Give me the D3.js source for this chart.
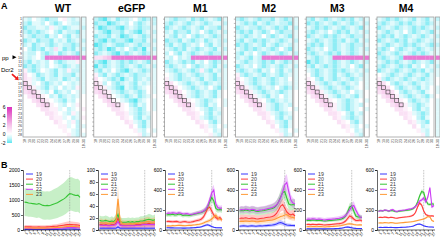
<!DOCTYPE html>
<html>
<head>
<meta charset="utf-8">
<script src="https://cdn.jsdelivr.net/npm/d3@7"></script>
<style>
body { margin: 0; background: #fff; }
svg { display: block; font-family: "Liberation Sans", Arial, sans-serif; }
</style>
</head>
<body>
<script>
// ---- data ----
const panels = ["WT", "eGFP", "M1", "M2", "M3", "M4"];
const lengths = [18, 19, 20, 21, 22, 23, 24, 25, 26, 27, 28, 29, 30];
const positions = d3.range(1, 29);
const seriesNames = ["19", "20", "21", "22", "23"];
const seriesColors = ["#3636ff", "#ff3b3b", "#35c435", "#cc3cf5", "#ff9a36"];
const boxedCells = [[16, 18], [17, 19], [18, 20], [19, 21], [20, 22], [21, 23]];
const barTicks = [6, 4, 2, 0, -2];
const markPosition = 23;

// cell codes, one char per cell (cols 18..30, then the 18-30 column)
const LEVEL = {C: -2, c: -1.5, b: -1, a: -0.5, "0": 0, "1": 0.5, "2": 1, "3": 1.5, "4": 2, "5": 3, "6": 4};

const wtCells = [
  "ab0abcbb01abaa", "bcaab0bcb0abba", "cbbaab1abcbaab", "bcbcba0bcabbca", "abcbbcab0bcaba",
  "cbacbbcabacbab", "bacbabcbabbcba", "0bcbcab2acbcab", "abb0bcbacbabca", "aba0b666666666",
  "bcabab0bcbaa1a", "cbcbab0abcbaba", "1bcb0abcab1bba", "20acbabcabbcaa", "21abcabbacbaba",
  "31a0bcbab0abaa", "331abcab0bab1a", "2331ab0cbab0aa", ".23310bacbaba0", "..23310abcab00",
  "...23310ab0a10", "....2211a0ba01", ".....2210ab1a0", "......211a0ba1", ".......210a1b0",
  "........11a0ba", ".........10ab0", "..........1aba"
];
const egfpCells = [
  "bcCbacbba0bcbb", "cbbCcbab0bcbab", "bCcbbcCbabcbba", "abcCbbcabcCbab", "cbbcabCcbabcba",
  "bcCbcbbcCbbcab", "Ccbabccbabcbba", "bcbCcab0bcbCab", "cbabcCbcbabcba", "22346666666666",
  "bcCbabcbcbabca", "Cbcbabcbabcbab", "bcab0bcCbabcba", "1bcabcbabcbbaa", "20abcbCbacbaba",
  "21b0bcbabcabaa", "321abcCabcba0a", "2321abcbabcb0a", ".2320abcbacba0", "..2310abcCba0a",
  "...23210bcab0a", "....2210abcb0a", ".....221abcba0", "......210bcab0", ".......21abca0",
  "........20bca0", ".........1ab0a", "..........1ba0"
];
const m1Cells = [
  "abcbbacbcbabca", "bcbabcbabcbaab", "cbabcbabcabbca", "bacbbcab0bcbab", "abcab0bcbabcba",
  "cbbcabcbacbabb", "bcabcbab0bcaba", "abcbcabcbabcab", "b0bcabcbabcbba", "ab0bab66666666",
  "cbabcbcab0bcba", "bcbab0bcbabcab", "abcbabcb1bcaba", "0abcbabcbabcaa", "1abcbbabcabcba",
  "320abcbabcbaba", "3320abcbab0bca", "23320abcbabca0", ".2331abcbabca0", "..23310abcba0a",
  "...2331abcab0a", "....2210abcba0", ".....2210bcab0", "......21abcba0", ".......210bca0",
  "........21ab0a", ".........10ba0", "..........1ab0"
];
const m2Cells = [
  "bcbabcbbcabcba", "abcbcabcbabbca", "cbabbcbabcbcab", "bcbcabcb0bcbba", "abcbab0bcbabca",
  "bcabcbcbabcbab", "cbcbabcabcbaba", "abcbcbabcb0bca", "bcab0bcbabcbab", "babcab66666666",
  "abcbabcbcabcba", "cbab0bcbabcbab", "bcbabcab0bcaba", "1bcbabcbabcbaa", "20abcbabcbab0a",
  "31abcbabcbabaa", "331abcbab0bcba", "2331abcbabcba0", ".2331abcab0ba0", "..23310bcbaba0",
  "...2331abcbab0", "....221abcba0a", ".....221abcba0", "......210bcab0", ".......21abca0",
  "........20bca0", ".........1ab0a", "..........1ba0"
];
const m3Cells = [
  "bcabcbabcbcaba", "cbcbabcbabcbab", "abcbcbabcbabca", "bcbab0bcbcabab", "cbabcbcbabcbba",
  "abcbabcbcabcab", "bcbcabcbabcbba", "cbab0bcbabcbab", "bcbabcbcabcbaa", "abcbab66666666",
  "Cbcbabcbabcbab", "bcabcbcbab0bca", "abcbabcbcbabab", "0bcbabcabcbaba", "10bcabcbabcbaa",
  "31abcbabcbab0a", "331abcbabcba0a", "2331abcbab0ba0", ".2331abcbabca0", "..23310abcba0a",
  "...2331abcbab0", "....221abcba0a", ".....2210bcab0", "......21abcba0", ".......210bca0",
  "........21ab0a", ".........10ba0", "..........1ab0"
];
const m4Cells = [
  "abcbcbabcabcab", "bcbabcbcbabcba", "cbabcbabcbcbab", "abcbab0bcbabca", "bcbcabcbabcbab",
  "cbabcbcabcbaba", "abcbabcbcbabcb", "bcb0bcbabcbaba", "cbabcbabcbcbaa", "bcbabc66666666",
  "abcbcbabcbabca", "bcbabcbcab0bab", "cbabcbabcbcaba", "0abcbabcbabcaa", "1bcbabcbabcba0",
  "320bcbabcbaba0", "3320bcbabcab0a", "23320bcbabca0a", ".2331abcbabca0", "..23310bcbab0a",
  "...2331abcba0a", "....2210bcab0a", ".....221abcb0a", "......210bca0a", ".......21abc0a",
  "........20ba0a", ".........1ab0a", "..........1b0a"
];

// line charts: mean and sd per series (19..23), positions 1..28
const wtMax = 2000, egfpMax = 100, mMax = 600;
const wtMean = [
  [20,20,18,18,18,17,17,18,18,17,17,18,18,20,20,22,22,24,26,28,30,32,34,32,30,28,27,25],
  [110,110,105,105,100,100,100,105,100,100,100,105,110,115,120,125,130,140,150,160,170,180,185,180,175,170,165,150],
  [930,920,900,890,880,870,860,880,850,820,810,820,810,830,860,880,910,950,990,1030,1080,1150,1210,1200,1170,1150,1160,1090],
  [50,48,47,46,45,45,44,45,44,44,45,46,48,50,52,55,58,62,66,70,75,80,85,82,80,78,76,72],
  [70,68,66,65,64,63,62,63,62,62,63,65,68,70,74,78,82,88,94,100,110,120,125,120,115,112,110,105]
];
const wtSd = [
  [12,12,11,11,11,10,10,11,11,10,10,11,11,12,12,13,13,14,15,16,18,19,20,19,18,17,16,15],
  [60,60,58,58,56,56,55,56,55,55,56,58,60,62,65,68,72,78,84,90,98,105,110,105,100,96,92,86],
  [460,460,455,450,450,455,460,460,465,470,470,470,470,480,490,500,510,520,530,540,550,555,560,560,555,550,550,540],
  [30,29,28,28,27,27,26,27,26,26,27,28,29,30,31,33,35,37,40,42,45,48,50,49,48,47,46,43],
  [45,44,43,42,42,41,40,41,40,40,41,42,44,45,48,50,53,57,61,65,70,75,78,75,72,70,68,65]
];
const egfpMean = [
  [3,3,3,3,3,3,3,3,3,5,3,3,3,3,3,3,3,3,3,3,3,3,3,3,3,3,3,3],
  [9,9,8,9,8,8,9,9,11,20,9,8,8,8,8,8,8,8,9,9,9,10,10,10,11,10,10,10],
  [16,15,15,16,15,14,15,14,18,26,14,13,13,13,14,13,14,13,14,14,15,15,16,17,18,17,16,17],
  [8,8,8,8,7,7,8,8,9,14,8,7,7,7,7,7,7,7,8,8,8,9,9,9,9,9,9,9],
  [12,12,11,12,11,11,12,13,15,52,16,11,10,10,10,11,10,11,11,11,12,12,13,14,14,13,13,14]
];
const egfpSd = [
  [2,2,2,2,2,2,2,2,2,3,2,2,2,2,2,2,2,2,2,2,2,2,2,2,2,2,2,2],
  [5,5,5,5,5,5,5,5,6,10,5,5,5,5,5,5,5,5,5,5,5,6,6,6,6,6,6,6],
  [8,8,8,8,8,7,8,7,9,14,7,7,7,7,7,7,7,7,7,7,8,8,8,8,9,9,8,9],
  [5,5,5,5,4,4,5,5,5,8,5,4,4,4,4,4,4,4,5,5,5,5,5,5,5,5,5,5],
  [7,7,6,7,6,6,7,7,9,23,9,6,6,6,6,6,6,6,6,6,7,7,7,8,8,7,7,8]
];
const m1Mean = [
  [22,22,21,21,20,20,20,20,19,19,20,20,21,22,24,26,28,32,40,48,52,45,35,28,24,22,22,21],
  [85,86,84,82,84,86,80,78,82,84,80,78,80,84,90,95,100,110,130,170,215,230,190,150,125,110,125,100],
  [150,155,152,158,150,152,160,155,145,150,148,145,150,155,160,165,170,175,185,200,230,280,325,290,215,200,205,200],
  [165,170,168,172,170,165,172,168,160,162,165,158,155,160,165,170,175,180,190,205,240,300,370,400,260,225,215,220],
  [40,42,40,44,42,45,48,46,44,42,45,48,46,50,52,55,58,62,70,80,88,95,110,130,150,120,110,100]
];
const m1Sd = [
  [6,6,6,6,6,6,6,6,6,6,6,6,6,6,7,7,8,9,10,12,13,12,10,8,7,7,7,6],
  [15,15,15,15,15,15,15,15,15,15,15,15,15,15,16,17,18,20,24,30,36,38,32,26,22,20,22,18],
  [20,20,20,20,20,20,20,20,20,20,20,20,20,20,21,22,23,24,26,30,34,40,44,40,30,28,28,28],
  [18,18,18,18,18,18,18,18,18,18,18,18,18,18,19,20,21,22,24,28,32,40,48,52,36,30,28,28],
  [10,10,10,10,10,10,10,10,10,10,10,10,10,11,11,12,12,13,14,16,18,20,22,25,28,24,20,18]
];
const m2Mean = [
  [38,40,42,40,38,40,42,40,38,40,42,40,42,44,46,48,50,54,60,70,75,68,58,50,48,46,45,44],
  [115,120,118,122,118,115,120,118,112,110,115,118,120,125,128,130,135,145,165,200,240,255,220,180,160,150,160,140],
  [190,195,192,200,195,190,198,195,188,185,190,192,195,200,205,210,215,225,245,280,330,375,385,320,260,250,255,250],
  [200,205,202,210,205,200,208,205,198,195,200,202,205,210,215,220,225,235,250,280,320,380,450,475,380,300,270,260],
  [85,88,86,90,88,85,90,88,84,82,86,88,90,92,95,98,100,105,115,125,135,140,150,155,140,130,125,120]
];
const m2Sd = [
  [15,15,15,15,15,15,15,15,15,15,15,15,15,16,16,17,18,19,20,22,24,22,20,18,17,16,16,16],
  [35,35,35,35,35,35,35,35,35,35,35,35,35,36,37,38,40,42,46,52,58,60,54,48,44,42,44,40],
  [40,40,40,40,40,40,40,40,40,40,40,40,40,41,42,43,44,46,50,56,64,72,75,66,56,54,55,54],
  [35,35,35,35,35,35,35,35,35,35,35,35,35,36,37,38,40,42,45,50,58,68,80,85,70,56,50,48],
  [25,25,25,25,25,25,25,25,25,25,25,25,25,26,26,27,28,29,30,32,34,35,37,38,35,33,32,31]
];
const m3Mean = [
  [12,12,11,12,12,11,12,12,11,11,12,12,13,13,14,15,16,18,22,28,30,26,22,18,16,15,15,14],
  [55,56,54,56,55,54,56,55,52,50,52,54,55,58,60,62,64,68,75,90,115,140,130,110,95,95,100,90],
  [95,98,96,100,98,95,98,96,92,90,92,95,95,98,100,102,105,110,120,140,180,230,240,190,140,130,130,125],
  [105,110,108,112,110,105,110,108,102,100,104,106,108,110,112,115,118,122,130,145,170,200,235,245,200,160,130,125],
  [32,34,33,35,34,33,35,34,32,30,32,34,35,36,38,40,42,45,50,55,60,62,60,55,52,50,52,50]
];
const m3Sd = [
  [5,5,5,5,5,5,5,5,5,5,5,5,5,5,5,5,6,6,7,8,9,8,7,6,6,5,5,5],
  [12,12,12,12,12,12,12,12,12,12,12,12,12,12,13,13,14,14,15,18,22,26,24,20,18,18,18,17],
  [15,15,15,15,15,15,15,15,15,15,15,15,15,15,16,16,17,18,20,24,30,38,40,32,24,22,22,21],
  [20,20,20,20,20,20,20,20,20,20,20,20,20,20,21,21,22,22,24,26,30,34,40,42,34,28,24,23],
  [8,8,8,8,8,8,8,8,8,8,8,8,8,8,9,9,9,10,10,11,12,12,12,11,11,10,10,10]
];
const m4Mean = [
  [25,26,25,27,26,25,26,25,24,24,25,26,27,28,30,32,35,40,50,58,60,52,42,36,32,30,30,28],
  [125,128,125,130,126,122,128,125,120,118,122,125,128,130,132,135,140,150,175,230,270,250,190,155,145,140,142,138],
  [190,195,190,198,195,188,195,192,185,182,188,190,192,195,198,200,205,215,235,280,340,385,375,300,260,255,262,258],
  [185,195,190,200,198,188,200,205,190,185,192,195,198,200,205,210,212,220,235,260,290,300,320,280,330,425,230,245],
  [70,72,70,74,72,70,74,72,68,68,70,72,74,76,78,80,82,85,90,95,100,105,110,120,135,130,95,85]
];
const m4Sd = [
  [4,4,4,4,4,4,4,4,4,4,4,4,4,4,4,5,5,5,6,7,8,7,6,5,5,5,5,5],
  [8,8,8,8,8,8,8,8,8,8,8,8,8,8,8,9,9,10,11,14,16,15,12,10,9,9,9,9],
  [10,10,10,10,10,10,10,10,10,10,10,10,10,10,10,11,11,12,13,16,19,22,21,17,15,14,15,15],
  [10,10,10,10,10,10,10,10,10,10,10,10,10,10,10,11,11,12,13,15,17,18,18,20,24,18,14,15],
  [6,6,6,6,6,6,6,6,6,6,6,6,6,6,6,6,7,7,7,8,8,8,9,9,10,9,8,7]
];

const cellSets = [wtCells, egfpCells, m1Cells, m2Cells, m3Cells, m4Cells];
const lineSets = [
  {mean: wtMean, sd: wtSd, max: wtMax, step: 500},
  {mean: egfpMean, sd: egfpSd, max: egfpMax, step: 20},
  {mean: m1Mean, sd: m1Sd, max: mMax, step: 200},
  {mean: m2Mean, sd: m2Sd, max: mMax, step: 200},
  {mean: m3Mean, sd: m3Sd, max: mMax, step: 200},
  {mean: m4Mean, sd: m4Sd, max: mMax, step: 200}
];

// ---- layout ----
const W = 440, H = 241;
const heatLeft = i => 23 + i * 70.8;
const titleX = i => 63 + i * 68.6;
const chartLeft = [23, 98, 165, 238, 305, 377];
const gridW = 57, allX = 58.4, allW = 4.6;
const heatTop = 17, heatBottom = 137;
const chartTop = 170, chartBottom = 230, chartW = 57;

const color = d3.scaleLinear()
  .domain([-2, -1, 0, 2, 6])
  .range(["#5ce6f0", "#c2f4f9", "#ffffff", "#f5c2ea", "#dc30bc"])
  .clamp(true);

const svg = d3.select("body").append("svg")
  .attr("width", W)
  .attr("height", H);

// panel letters
svg.append("text").attr("x", 1).attr("y", 9).attr("font-size", 9).attr("font-weight", "bold").text("A");
svg.append("text").attr("x", 1).attr("y", 168).attr("font-size", 9).attr("font-weight", "bold").text("B");

function drawHeatmap(i) {
  const L = heatLeft(i);
  const g = svg.append("g").attr("class", "heat");
  const x = d3.scaleBand().domain(lengths).range([L, L + gridW]);
  const y = d3.scaleBand().domain(positions).range([heatTop, heatBottom]);

  const cells = [];
  cellSets[i].forEach((s, ri) => {
    [...s].forEach((ch, ci) => {
      if (ch === ".") return;
      cells.push({pos: positions[ri], col: ci, v: LEVEL[ch]});
    });
  });

  g.selectAll("rect.cell").data(cells).join("rect")
    .attr("class", "cell")
    .attr("x", d => d.col < lengths.length ? x(lengths[d.col]) : L + allX)
    .attr("y", d => y(d.pos))
    .attr("width", d => (d.col < lengths.length ? x.bandwidth() : allW) + 0.2)
    .attr("height", y.bandwidth() + 0.2)
    .attr("fill", d => color(d.v));

  // boxes on the diagonal
  g.selectAll("rect.box").data(boxedCells).join("rect")
    .attr("class", "box")
    .attr("x", d => x(d[1]) + 0.2)
    .attr("y", d => y(d[0]) + 0.2)
    .attr("width", x.bandwidth() - 0.4)
    .attr("height", y.bandwidth() - 0.4)
    .attr("fill", "none")
    .attr("stroke", "#3a3a3a")
    .attr("stroke-width", 0.6);

  // frames
  g.append("rect")
    .attr("x", L).attr("y", heatTop)
    .attr("width", gridW).attr("height", heatBottom - heatTop)
    .attr("fill", "none").attr("stroke", "#a0a0a0").attr("stroke-width", 0.8);
  g.append("rect")
    .attr("x", L + allX).attr("y", heatTop)
    .attr("width", allW).attr("height", heatBottom - heatTop)
    .attr("fill", "none").attr("stroke", "#a0a0a0").attr("stroke-width", 0.8);

  // row ticks / labels
  if (i === 0) {
    g.selectAll("text.row").data(positions).join("text")
      .attr("class", "row")
      .attr("x", L - 1)
      .attr("y", d => y(d) + y.bandwidth() / 2 + 1.2)
      .attr("text-anchor", "end")
      .attr("font-size", 3.6)
      .attr("fill", "#333")
      .text(d => d);
  } else {
    g.selectAll("line.row").data(positions).join("line")
      .attr("class", "row")
      .attr("x1", L - 1.6).attr("x2", L)
      .attr("y1", d => y(d) + y.bandwidth() / 2)
      .attr("y2", d => y(d) + y.bandwidth() / 2)
      .attr("stroke", "#555").attr("stroke-width", 0.4);
  }

  // column labels
  g.selectAll("text.col").data(lengths).join("text")
    .attr("class", "col")
    .attr("transform", d => `translate(${x(d) + x.bandwidth() / 2 + 1.2},${heatBottom + 2}) rotate(-90)`)
    .attr("text-anchor", "end")
    .attr("font-size", 3.6)
    .attr("fill", "#333")
    .text(d => d);
  g.append("text")
    .attr("transform", `translate(${L + allX + allW / 2 + 1.2},${heatBottom + 2}) rotate(-90)`)
    .attr("text-anchor", "end")
    .attr("font-size", 3.6)
    .attr("fill", "#333")
    .text("18-30");

  // title
  svg.append("text")
    .attr("x", titleX(i)).attr("y", 12)
    .attr("text-anchor", "middle")
    .attr("font-size", 10.5)
    .attr("font-weight", "bold")
    .text(panels[i]);
}

function drawChart(i) {
  const set = lineSets[i];
  const ax = chartLeft[i];
  const g = svg.append("g").attr("class", "chart");
  const x = d3.scaleLinear().domain([1, 28]).range([ax + 1.5, ax + chartW]);
  const y = d3.scaleLinear().domain([0, set.max]).range([chartBottom, chartTop]);

  const band = d3.area()
    .x((d, k) => x(positions[k]))
    .y0(d => y(Math.max(0, d[0] - d[1])))
    .y1(d => y(Math.min(set.max, d[0] + d[1])));
  const line = d3.line()
    .x((d, k) => x(positions[k]))
    .y(d => y(d));

  set.mean.forEach((m, s) => {
    g.append("path")
      .attr("d", band(m.map((v, k) => [v, set.sd[s][k]])))
      .attr("fill", seriesColors[s])
      .attr("fill-opacity", 0.28);
  });

  // dotted marker
  g.append("line")
    .attr("x1", x(markPosition)).attr("x2", x(markPosition))
    .attr("y1", chartTop).attr("y2", chartBottom)
    .attr("stroke", "#888").attr("stroke-width", 0.6)
    .attr("stroke-dasharray", "0.8,0.8");

  set.mean.forEach((m, s) => {
    g.append("path")
      .attr("d", line(m))
      .attr("fill", "none")
      .attr("stroke", seriesColors[s])
      .attr("stroke-width", 1.1);
  });

  // axes
  const yAxis = d3.axisLeft(y)
    .tickValues(d3.range(0, set.max + 1, set.step))
    .tickSize(2).tickPadding(1)
    .tickFormat(d3.format("d"));
  const ga = g.append("g").attr("transform", `translate(${ax},0)`).call(yAxis);
  ga.selectAll("text").attr("font-size", 5).attr("font-family", "Liberation Sans, Arial, sans-serif");

  const xAxis = d3.axisBottom(x)
    .tickValues(d3.range(1, 28, 2))
    .tickSize(1.5).tickPadding(0.5)
    .tickFormat(d3.format("d"));
  const gx = g.append("g").attr("transform", `translate(0,${chartBottom})`).call(xAxis);
  gx.select(".domain").attr("d", `M${ax},0H${ax + chartW + 1}`);
  gx.selectAll("text")
    .attr("font-size", 3.8)
    .attr("font-family", "Liberation Sans, Arial, sans-serif")
    .attr("text-anchor", "end")
    .attr("transform", "rotate(-60)")
    .attr("dx", "-0.3em").attr("dy", "0.6em");
  g.selectAll(".domain, .tick line").attr("stroke", "#000").attr("stroke-width", 0.6);

  // legend
  const lg = g.append("g");
  seriesNames.forEach((n, s) => {
    const ly = chartTop + 4 + s * 5.1;
    lg.append("line")
      .attr("x1", ax + 3).attr("x2", ax + 10)
      .attr("y1", ly).attr("y2", ly)
      .attr("stroke", seriesColors[s]).attr("stroke-width", 1);
    lg.append("text")
      .attr("x", ax + 13).attr("y", ly + 1.8)
      .attr("font-size", 5.2)
      .attr("fill", "#333")
      .text(n);
  });
}

panels.forEach((p, i) => {
  drawHeatmap(i);
  drawChart(i);
});

// colour bar
const barY = d3.scaleLinear().domain([-2, 6]).range([143, 107]);
const grad = svg.append("defs").append("linearGradient")
  .attr("id", "cbar").attr("x1", 0).attr("y1", 1).attr("x2", 0).attr("y2", 0);
d3.range(-2, 6.01, 0.5).forEach(v => {
  grad.append("stop").attr("offset", (v + 2) / 8).attr("stop-color", color(v));
});
svg.append("rect")
  .attr("x", 7).attr("y", barY(6)).attr("width", 5).attr("height", barY(-2) - barY(6))
  .attr("fill", "url(#cbar)");
svg.selectAll("text.bar").data(barTicks).join("text")
  .attr("class", "bar")
  .attr("x", 5.5).attr("y", d => barY(d) + 1.8)
  .attr("text-anchor", "end")
  .attr("font-size", 5)
  .text(d => d);

// pp and Dcr2 markers
svg.append("text").attr("x", 2).attr("y", 59.5).attr("font-size", 6).text("pp");
svg.append("path").attr("d", "M12.5,55.3L16.5,57.3L12.5,59.3Z").attr("fill", "#000");
svg.append("text").attr("x", 1).attr("y", 72).attr("font-size", 6).text("Dcr2");
svg.append("path")
  .attr("d", "M12.5,73.5L16.8,77.2L17.8,75.8L18.6,80.2L14.4,79.4L15.6,78.4L11.4,74.7Z")
  .attr("fill", "#ee1c1c");
</script>
</body>
</html>
